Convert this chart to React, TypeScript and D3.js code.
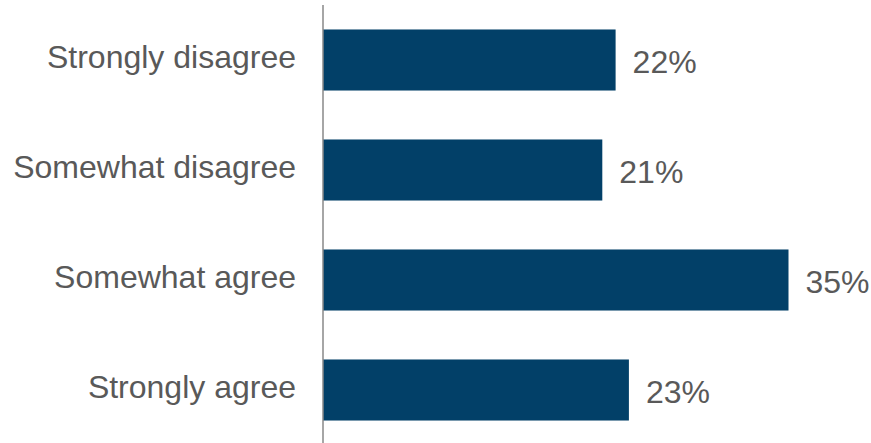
import React from "react";
import * as d3 from "d3";

const categories = ["Strongly disagree", "Somewhat disagree", "Somewhat agree", "Strongly agree"];
const values = [22, 21, 35, 23];
const valueLabels = ["22%", "21%", "35%", "23%"];

const W = 871;
const H = 443;
const axisX = 323;

export default function App() {
  const x = d3.scaleLinear().domain([0, 35]).range([axisX, 788.5]);
  const y = d3.scaleBand<string>().domain(categories).range([5, 445]).paddingInner(0.445).paddingOuter(0.2225);
  return (
    <svg width={W} height={H} style={{ position: "absolute", left: 0, top: 0 }} fontFamily="'Liberation Sans', Arial, sans-serif">
      {categories.map((c, i) => (
        <g key={c}>
          <rect x={x(0)} y={y(c)!} width={x(values[i]) - x(0)} height={y.bandwidth()} fill="#024068" />
          <text x={x(values[i]) + 17} y={y(c)! + y.bandwidth() / 2} dy="0.42em" fontSize={32} fill="#595959">
            {valueLabels[i]}
          </text>
          <text x={296} y={y(c)! + y.bandwidth() / 2} dy="0.25em" textAnchor="end" fontSize={32} fill="#595959">
            {c}
          </text>
        </g>
      ))}
      <line x1={axisX} x2={axisX} y1={5} y2={H} stroke="#898989" strokeWidth={1.5} />
    </svg>
  );
}
